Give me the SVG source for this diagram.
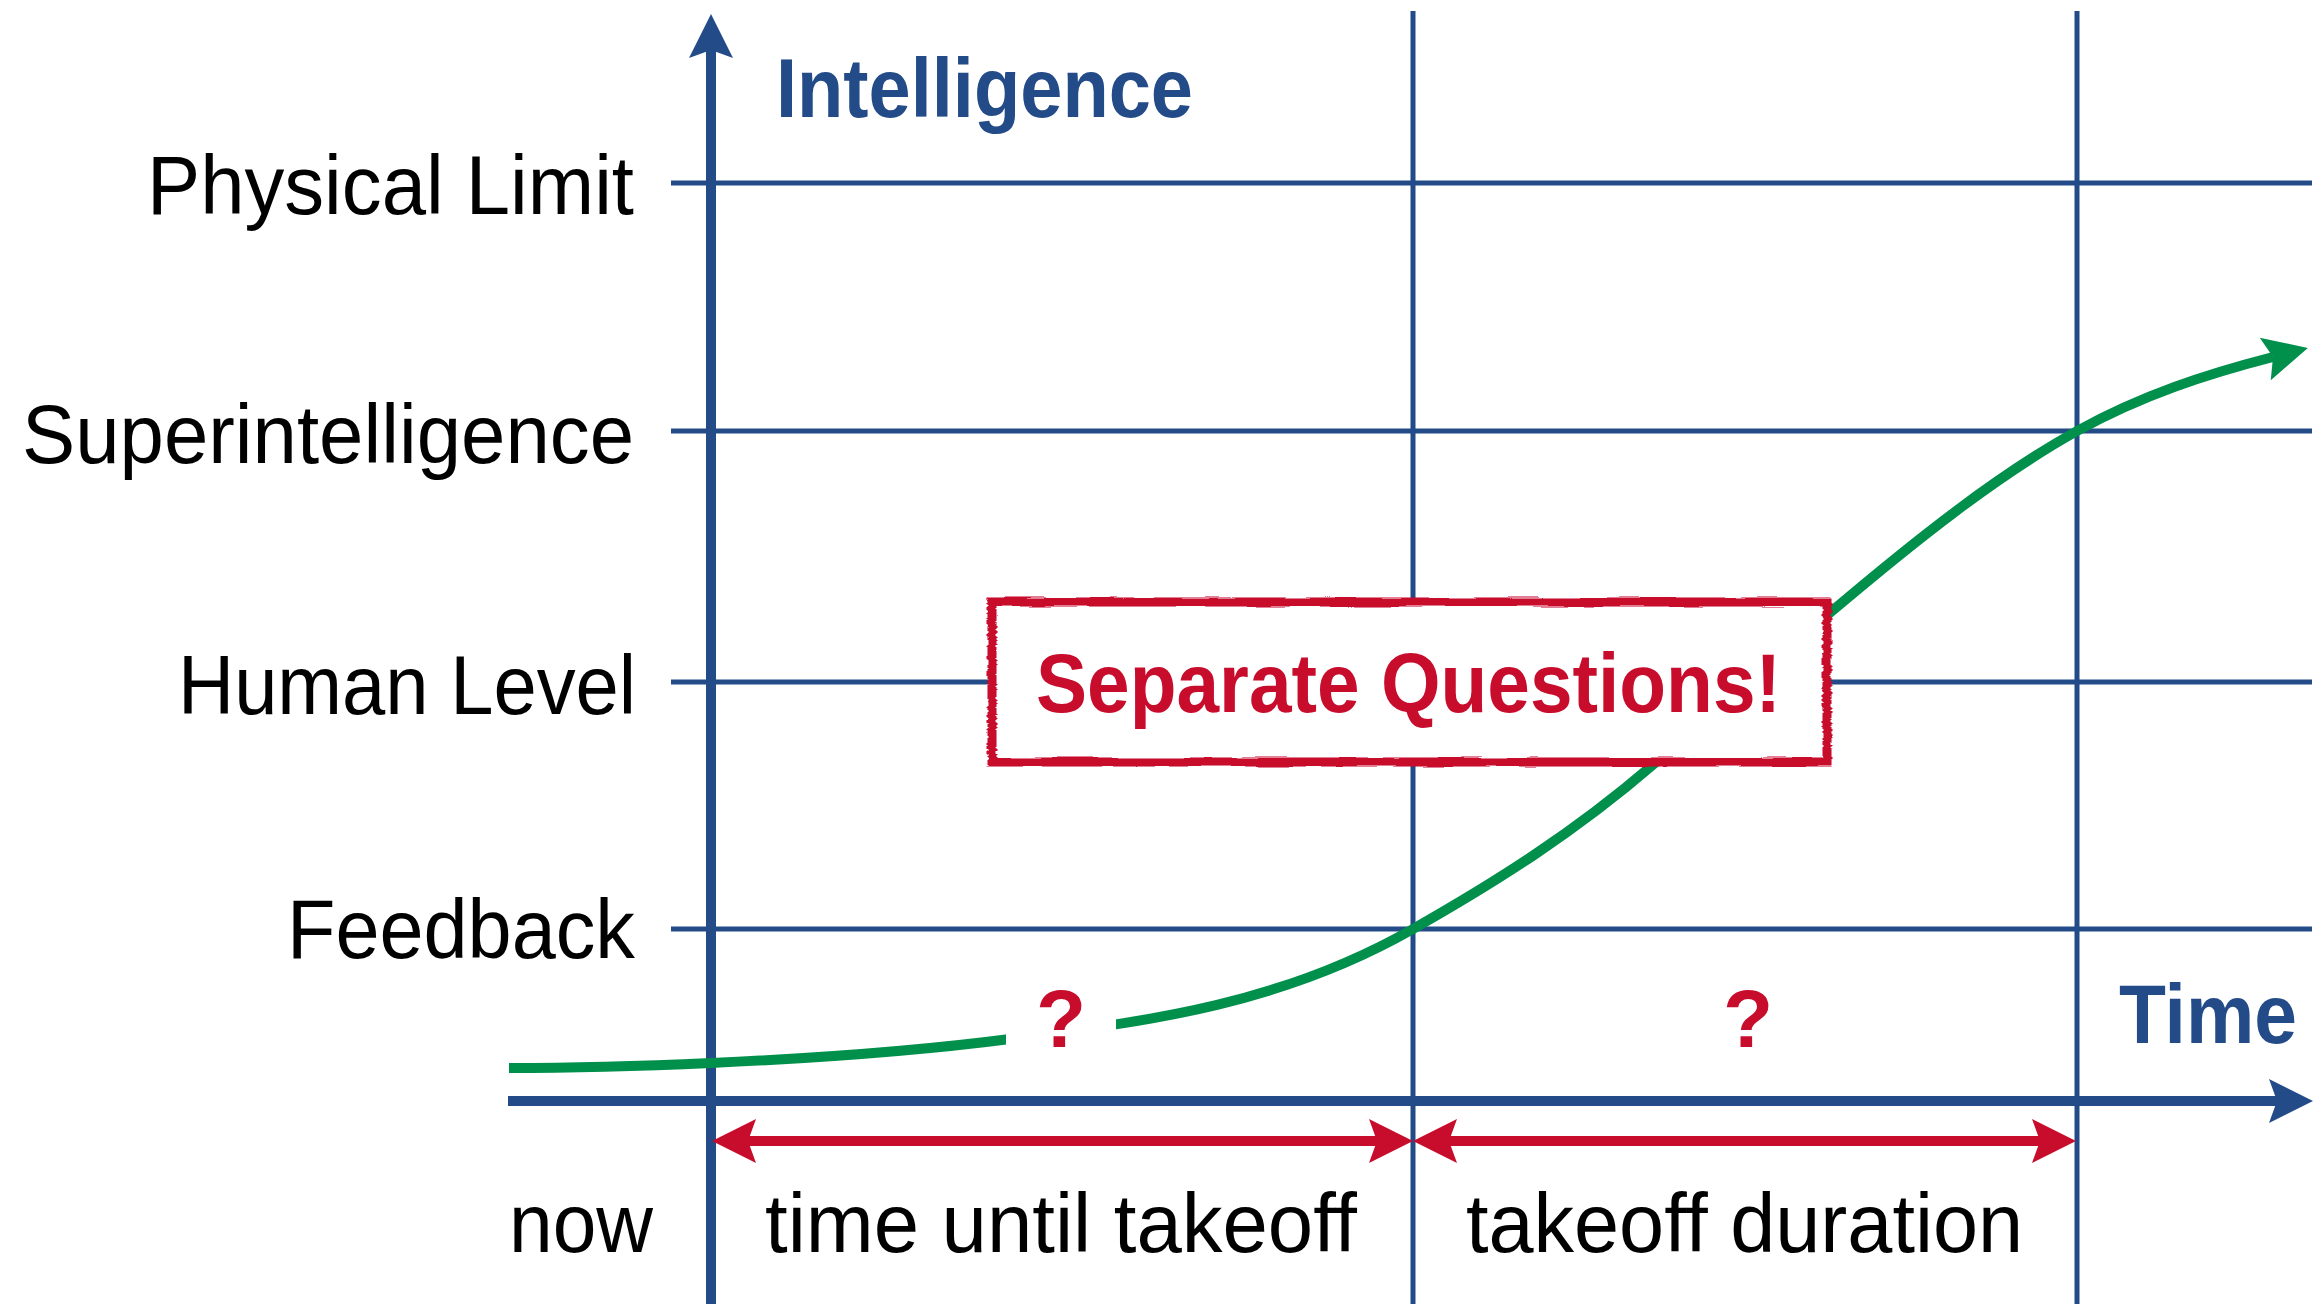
<svg xmlns="http://www.w3.org/2000/svg" width="2320" height="1304" viewBox="0 0 2320 1304">
  <style>
    .grid { stroke: #234B88; stroke-width: 5; fill: none; }
    .axis { stroke: #234B88; stroke-width: 10; fill: none; }
    .lbl { font-family: "Liberation Sans", Arial, sans-serif; font-size: 84px; fill: #000; }
    .bot { font-family: "Liberation Sans", Arial, sans-serif; font-size: 84px; fill: #000; }
    .ttl { font-family: "Liberation Sans", Arial, sans-serif; font-size: 83px; font-weight: bold; fill: #234B88; }
    .q { font-family: "Liberation Sans", Arial, sans-serif; font-size: 82px; font-weight: bold; fill: #C80C2C; text-anchor: middle; }
    .red { stroke: #C80C2C; stroke-width: 10; fill: none; }
    .green { stroke: #00904C; stroke-width: 10; fill: none; }
  </style>
  <defs>
    <marker id="ahBlue" markerUnits="userSpaceOnUse" viewBox="-10 -25 50 50" markerWidth="50" markerHeight="50" refX="0" refY="0" orient="auto">
      <path d="M36,0 L-8,-22 L0,0 L-8,22 Z" fill="#234B88"/>
    </marker>
    <marker id="ahRed" markerUnits="userSpaceOnUse" viewBox="-10 -25 50 50" markerWidth="50" markerHeight="50" refX="0" refY="0" orient="auto-start-reverse">
      <path d="M36,0 L-8,-22 L0,0 L-8,22 Z" fill="#C80C2C"/>
    </marker>
    <marker id="ahGreen" markerUnits="userSpaceOnUse" viewBox="-10 -25 50 50" markerWidth="50" markerHeight="50" refX="0" refY="0" orient="auto">
      <path d="M36,0 L-8,-22 L0,0 L-8,22 Z" fill="#00904C"/>
    </marker>
    <filter id="rough" x="-5%" y="-20%" width="110%" height="140%">
      <feTurbulence type="fractalNoise" baseFrequency="0.02 0.35" numOctaves="2" seed="4" result="n"/>
      <feDisplacementMap in="SourceGraphic" in2="n" scale="5" xChannelSelector="R" yChannelSelector="G"/>
    </filter>
  </defs>

  <rect width="2320" height="1304" fill="#fff"/>

  <g id="grid">
    <line class="grid" x1="671" y1="183" x2="2312" y2="183"/>
    <line class="grid" x1="671" y1="431" x2="2312" y2="431"/>
    <line class="grid" x1="671" y1="682" x2="2312" y2="682"/>
    <line class="grid" x1="671" y1="929" x2="2312" y2="929"/>
    <line class="grid" x1="1413" y1="11" x2="1413" y2="1304"/>
    <line class="grid" x1="2077" y1="11" x2="2077" y2="1304"/>
  </g>

  <g id="connectors">
    <line id="y-axis" class="axis" x1="711" y1="1304" x2="711" y2="50" marker-end="url(#ahBlue)"/>
    <line id="x-axis" class="axis" x1="508" y1="1101" x2="2277" y2="1101" marker-end="url(#ahBlue)"/>
    <path id="curve" class="green" marker-end="url(#ahGreen)" d="M509,1068 C576,1068 644,1066 711,1063 C811,1058.5 910,1052 1010,1039 C1144,1021.5 1279,1005.6 1413,929 C1494,883 1574,833 1655,763 C1714,711.7 1773,661 1832,611 C1914,541.6 1995,476.8 2077,431 C2142,395 2207,374 2273,357"/>
    <line id="arrow-time-until" class="red" x1="748" y1="1141" x2="1377" y2="1141" marker-start="url(#ahRed)" marker-end="url(#ahRed)"/>
    <line id="arrow-duration" class="red" x1="1449" y1="1141" x2="2040" y2="1141" marker-start="url(#ahRed)" marker-end="url(#ahRed)"/>
  </g>

  <g id="q1">
    <rect x="1006" y="985" width="110" height="110.5" fill="#fff"/>
    <text class="q" x="1061" y="1047">?</text>
  </g>
  <g id="q2">
    <rect x="1693" y="985" width="110" height="110.5" fill="#fff"/>
    <text class="q" x="1748" y="1047">?</text>
  </g>

  <g id="separate-questions">
    <rect x="992" y="602" width="835" height="160" fill="#fff"/>
    <rect x="992" y="602" width="835" height="160" fill="none" stroke="#C80C2C" stroke-width="9" filter="url(#rough)"/>
    <text x="1036" y="712" font-family="Liberation Sans, Arial, sans-serif" font-size="83" font-weight="bold" fill="#C80C2C" textLength="745" lengthAdjust="spacingAndGlyphs">Separate Questions!</text>
  </g>

  <g id="label-intelligence"><text class="ttl" x="776" y="117" textLength="417" lengthAdjust="spacingAndGlyphs">Intelligence</text></g>
  <g id="label-time"><text class="ttl" x="2119" y="1043" textLength="178" lengthAdjust="spacingAndGlyphs">Time</text></g>

  <g id="level-physical-limit"><text class="lbl" x="147" y="214" textLength="487" lengthAdjust="spacingAndGlyphs">Physical Limit</text></g>
  <g id="level-superintelligence"><text class="lbl" x="22" y="463" textLength="612" lengthAdjust="spacingAndGlyphs">Superintelligence</text></g>
  <g id="level-human"><text class="lbl" x="178" y="714" textLength="458" lengthAdjust="spacingAndGlyphs">Human Level</text></g>
  <g id="level-feedback"><text class="lbl" x="287" y="958" textLength="348" lengthAdjust="spacingAndGlyphs">Feedback</text></g>

  <g id="label-now"><text class="bot" x="509" y="1252" textLength="144" lengthAdjust="spacingAndGlyphs">now</text></g>
  <g id="label-time-until-takeoff"><text class="bot" x="765" y="1252" textLength="592" lengthAdjust="spacingAndGlyphs">time until takeoff</text></g>
  <g id="label-takeoff-duration"><text class="bot" x="1466" y="1252" textLength="557" lengthAdjust="spacingAndGlyphs">takeoff duration</text></g>
</svg>
